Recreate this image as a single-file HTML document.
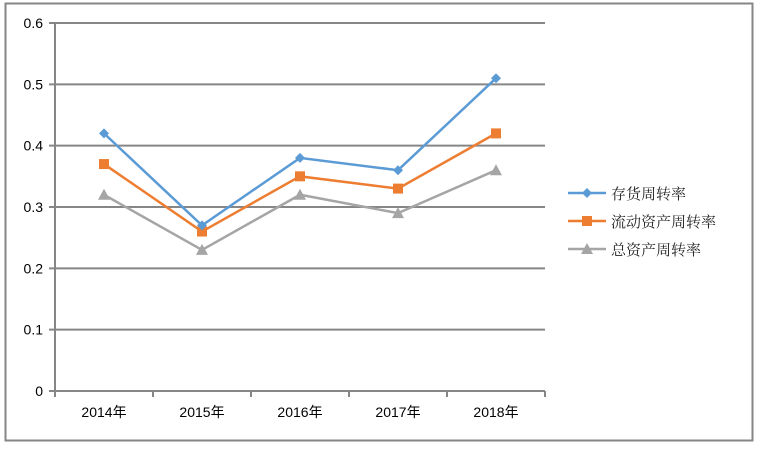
<!DOCTYPE html>
<html><head><meta charset="utf-8"><style>
body{margin:0;background:#fff;}
svg text{font-family:"Liberation Sans","Noto Sans CJK SC",sans-serif;font-size:14px;fill:#000;}
</style></head><body>
<svg width="769" height="445">
<rect x="5.5" y="3.5" width="747" height="437" fill="#fff" stroke="#868686" stroke-width="2"/>
<g id="grid"></g><g id="series"></g><g id="legend"></g>
</svg>
<script>
const categories=["2014年","2015年","2016年","2017年","2018年"];
const inventoryTurnover=[0.42,0.27,0.38,0.36,0.51];
const currentAssetTurnover=[0.37,0.26,0.35,0.33,0.42];
const totalAssetTurnover=[0.32,0.23,0.32,0.29,0.36];
const yTicks=[0,0.1,0.2,0.3,0.4,0.5,0.6];
const seriesNames=["存货周转率","流动资产周转率","总资产周转率"];
const NS="http://www.w3.org/2000/svg";
const x0=55,x1=545,yTop=23,yBot=391,yMax=0.6;
const y=v=>yBot-(v/yMax)*(yBot-yTop);
const xc=i=>x0+(i+0.5)*(x1-x0)/categories.length;
function mk(t,a,p){const e=document.createElementNS(NS,t);for(const k in a)e.setAttribute(k,a[k]);p.appendChild(e);return e;}
const g=document.getElementById('grid');
yTicks.forEach(v=>{
 const l=mk('line',{x1:x0-6,x2:x1,y1:y(v),y2:y(v),stroke:'#868686','stroke-width':2},g);
 
 
 const t=mk('text',{x:43,y:y(v)+5,'text-anchor':'end'},g);t.textContent=String(v);
 
 
});
const ax=mk('line',{x1:x0,x2:x0,y1:yTop,y2:yBot+6,stroke:'#868686','stroke-width':2},g);


for(let i=0;i<=categories.length;i++){
 const xx=x0+i*(x1-x0)/categories.length;
 const tk=mk('line',{x1:xx,x2:xx,y1:yBot,y2:yBot+6,stroke:'#868686','stroke-width':2},g);
 
 
}
categories.forEach((c,i)=>{
 const t=mk('text',{x:xc(i),y:417,'text-anchor':'middle'},g);t.textContent=c;
 
 
});
const colors=["#5b9bd5","#ed7d31","#a5a5a5"];
const shapes=["diamond","square","triangle"];
function marker(s,cx,cy,col,p){
 if(s==="diamond")return mk('polygon',{points:`${cx},${cy-5} ${cx+5},${cy} ${cx},${cy+5} ${cx-5},${cy}`,fill:col},p);
 if(s==="square")return mk('rect',{x:cx-5,y:cy-5,width:10,height:10,fill:col},p);
 return mk('polygon',{points:`${cx},${cy-6} ${cx+6},${cy+5} ${cx-6},${cy+5}`,fill:col},p);
}
const sg=document.getElementById('series');
[totalAssetTurnover,currentAssetTurnover,inventoryTurnover].forEach((d,k)=>{
 const j=2-k;
 const pl=mk('polyline',{points:d.map((v,i)=>xc(i)+','+y(v)).join(' '),fill:'none',stroke:colors[j],'stroke-width':2.5},sg);
 
 
 d.forEach((v,i)=>{const m=marker(shapes[j],xc(i),y(v),colors[j],sg);
  
  });
});
const lg=document.getElementById('legend');
seriesNames.forEach((n,j)=>{
 const yy=193+j*28;
 const l=mk('line',{x1:568,x2:606,y1:yy,y2:yy,stroke:colors[j],'stroke-width':2.5},lg);
 
 
 const m=marker(shapes[j],587,yy,colors[j],lg);
 
 
 const t=mk('text',{x:611,y:yy+6,style:'font-family:"Liberation Serif","Noto Serif CJK SC",serif;font-size:15px;fill:#222'},lg);t.textContent=n;
 
 
});
</script>
</body></html>
